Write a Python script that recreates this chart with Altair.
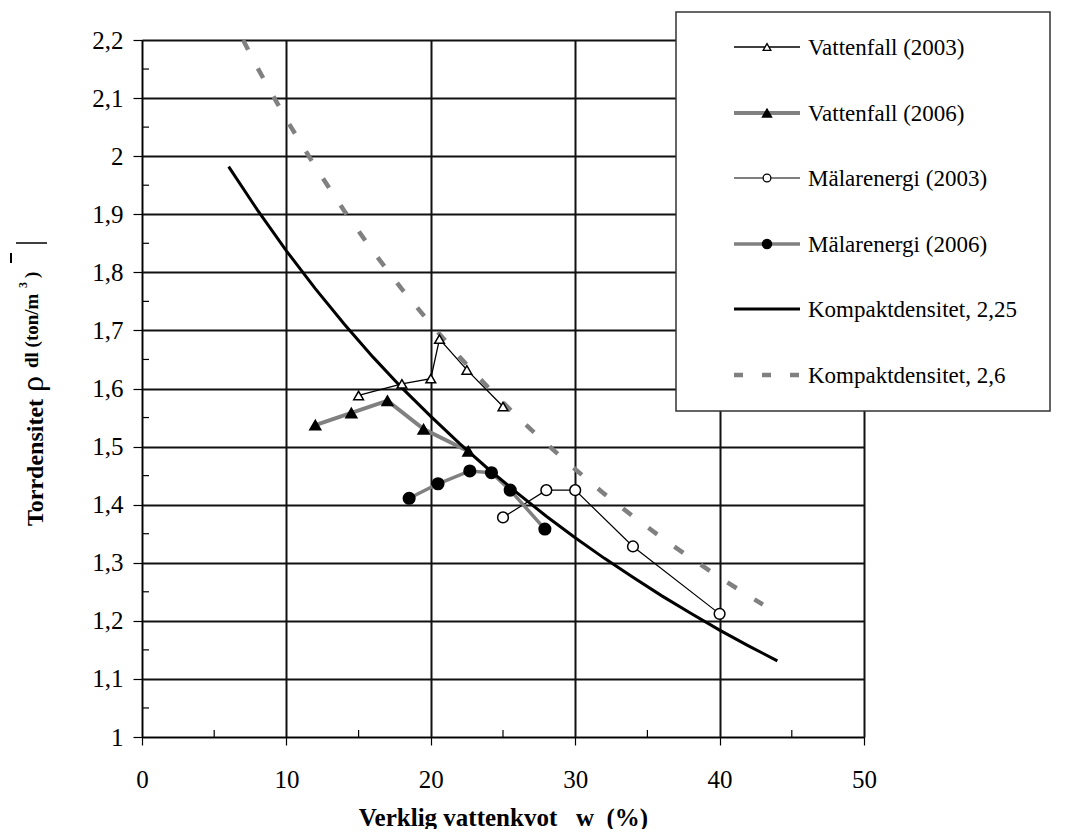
import altair as alt
import pandas as pd

# ---------------- data ----------------
v03_w = [15, 18, 20, 20.6, 22.5, 25]
v03_rho = [1.588, 1.608, 1.617, 1.685, 1.632, 1.569]

v06_w = [12, 14.5, 17, 19.5, 22.6]
v06_rho = [1.537, 1.558, 1.579, 1.530, 1.492]

m03_w = [25, 28, 30, 34, 40]
m03_rho = [1.378, 1.425, 1.425, 1.328, 1.212]

m06_w = [18.5, 20.5, 22.7, 24.2, 25.5, 27.9]
m06_rho = [1.411, 1.436, 1.458, 1.455, 1.425, 1.358]

k225_w = [6, 8, 10, 12, 14, 16, 18, 20, 22, 24, 26, 28, 30, 32, 34, 36, 38, 40, 42, 44]
k225_rho = [1.982, 1.907, 1.837, 1.772, 1.711, 1.654, 1.601, 1.552, 1.505, 1.461,
            1.420, 1.380, 1.343, 1.308, 1.275, 1.243, 1.213, 1.184, 1.157, 1.131]

k26_w = [7, 8, 10, 12, 14, 16, 18, 20, 22, 24, 26, 28, 30, 32, 34, 36, 38, 40, 42, 43]
k26_rho = [2.200, 2.152, 2.063, 1.982, 1.906, 1.836, 1.771, 1.711, 1.654, 1.601,
           1.551, 1.505, 1.461, 1.419, 1.380, 1.343, 1.308, 1.275, 1.243, 1.228]

x_ticks = [0, 10, 20, 30, 40, 50]
x_minor = [5, 15, 25, 35, 45]
y_ticks = [1.0, 1.1, 1.2, 1.3, 1.4, 1.5, 1.6, 1.7, 1.8, 1.9, 2.0, 2.1, 2.2]
y_minor = [1.05, 1.15, 1.25, 1.35, 1.45, 1.55, 1.65, 1.75, 1.85, 1.95, 2.05, 2.15]

labels = ["Vattenfall (2003)", "Vattenfall (2006)", "Mälarenergi (2003)",
          "Mälarenergi (2006)", "Kompaktdensitet, 2,25", "Kompaktdensitet, 2,6"]

x_title = "Verklig vattenkvot\u00a0\u00a0\u00a0w\u00a0\u00a0(%)"

# ---------------- styling ----------------
W, H = 722, 697
SERIF = "'Liberation Serif', 'Times New Roman', serif"
GRAY = "#808080"

xs = alt.Scale(domain=[0, 50], nice=False, zero=False)
ys = alt.Scale(domain=[1, 2.2], nice=False, zero=False)

xaxis = alt.Axis(values=x_ticks, grid=True, gridColor="#111111", gridWidth=2,
                 domainColor="#000000", domainWidth=1, tickColor="#000000",
                 tickSize=8, tickWidth=1.2, labelFont=SERIF, labelFontSize=25,
                 labelColor="#000000", labelBaseline="alphabetic", labelPadding=42,
                 labelFlush=False, title=x_title, titleFont=SERIF, titleFontSize=25,
                 titleFontWeight="bold", titleColor="#000000",
                 titleBaseline="alphabetic", titleY=88)
yaxis = alt.Axis(values=y_ticks, grid=True, gridColor="#111111", gridWidth=2,
                 domainColor="#000000", domainWidth=1, tickColor="#000000",
                 tickSize=9, tickWidth=1.2, labelFont=SERIF, labelFontSize=25,
                 labelColor="#000000", labelPadding=10, labelFlush=False,
                 labelExpr="replace(format(datum.value, '~g'), '.', ',')",
                 title=None)


def xy():
    return dict(x=alt.X("w:Q", scale=xs, axis=xaxis),
                y=alt.Y("rho:Q", scale=ys, axis=yaxis))


def df(w, r):
    return pd.DataFrame({"w": w, "rho": r})


one = pd.DataFrame({"k": [0]})

series = [
    dict(w=v03_w, r=v03_rho, color="#000000", lw=1.3, dash=None, shape="triangle-up",
         fill="white", size=95, lsize=60),
    dict(w=v06_w, r=v06_rho, color=GRAY, lw=4, dash=None, shape="triangle-up",
         fill="black", size=120, lsize=85),
    dict(w=m03_w, r=m03_rho, color="#000000", lw=1.2, dash=None, shape="circle",
         fill="white", size=115, lsize=60),
    dict(w=m06_w, r=m06_rho, color=GRAY, lw=3.5, dash=None, shape="circle",
         fill="black", size=135, lsize=85),
    dict(w=k225_w, r=k225_rho, color="#000000", lw=3, dash=None, shape=None),
    dict(w=k26_w, r=k26_rho, color=GRAY, lw=4.5, dash=[11, 21], shape=None),
]

layers = []
# data lines and points
for s in series:
    d = df(s["w"], s["r"])
    lk = dict(color=s["color"], strokeWidth=s["lw"], strokeCap="butt")
    if s["dash"]:
        lk["strokeDash"] = s["dash"]
    layers.append(alt.Chart(d).mark_line(**lk).encode(**xy()))
for s in series:
    if s["shape"]:
        d = df(s["w"], s["r"])
        layers.append(alt.Chart(d).mark_point(
            shape=s["shape"], size=s["size"], filled=True, fill=s["fill"],
            fillOpacity=1, opacity=1, stroke="black", strokeWidth=1.5
        ).encode(**xy()))

# minor ticks (inward)
layers.append(alt.Chart(pd.DataFrame({"w": x_minor})).mark_rule(
    color="black", strokeWidth=1.2).encode(
    x=alt.X("w:Q", scale=xs, axis=xaxis), y=alt.value(H), y2=alt.value(H - 7)))
layers.append(alt.Chart(pd.DataFrame({"rho": y_minor})).mark_rule(
    color="black", strokeWidth=1.2).encode(
    y=alt.Y("rho:Q", scale=ys, axis=yaxis), x=alt.value(0), x2=alt.value(7)))

# legend box
layers.append(alt.Chart(one).mark_rect(fill="white", stroke="#333333", strokeWidth=1.5).encode(
    x=alt.value(534), x2=alt.value(908), y=alt.value(-28), y2=alt.value(371)))

row_y = [7, 73, 138, 204, 269, 335]
for i, s in enumerate(series):
    yy = row_y[i]
    lk = dict(color=s["color"], strokeWidth=s["lw"], strokeCap="butt")
    if s["dash"]:
        lk["strokeDash"] = [9, 19]
    layers.append(alt.Chart(one).mark_rule(**lk).encode(
        x=alt.value(592), x2=alt.value(658), y=alt.value(yy)))
    if s["shape"]:
        layers.append(alt.Chart(one).mark_point(
            shape=s["shape"], size=s["lsize"], filled=True, fill=s["fill"],
            fillOpacity=1, opacity=1, stroke="black", strokeWidth=1.3
        ).encode(x=alt.value(625), y=alt.value(yy)))
    layers.append(alt.Chart(one).mark_text(
        font=SERIF, fontSize=23, align="left", baseline="alphabetic", color="black"
    ).encode(x=alt.value(666), y=alt.value(yy + 8), text=alt.value(labels[i])))

# y-axis title pieces (rotated)
ytitle = [
    ("Torrdensitet", 24, "bold", -99, 486),
    ("\u03c1", 32, "normal", -99, 352),
    ("dl (ton/m", 19, "bold", -104, 328),
    ("3", 12, "bold", -115, 248),
    (")", 19, "bold", -104, 238),
]
for t, fs, fw, px, py in ytitle:
    layers.append(alt.Chart(one).mark_text(
        font=SERIF, fontSize=fs, fontWeight=fw, angle=270, align="left",
        baseline="alphabetic", color="black"
    ).encode(x=alt.value(px), y=alt.value(py), text=alt.value(t)))
layers.append(alt.Chart(one).mark_rule(color="black", strokeWidth=1.5).encode(
    x=alt.value(-126), x2=alt.value(-95), y=alt.value(203)))
layers.append(alt.Chart(one).mark_rule(color="black", strokeWidth=2).encode(
    x=alt.value(-131), y=alt.value(213), y2=alt.value(223)))

chart = alt.layer(*layers).properties(
    width=W, height=H,
    autosize=alt.AutoSizeParams(type="none"),
    padding={"left": 134, "top": 32, "right": 200, "bottom": 92},
).configure_view(stroke=None).configure(background="white")

chart.save("out.html", embed_options={"renderer": "svg", "actions": False})
